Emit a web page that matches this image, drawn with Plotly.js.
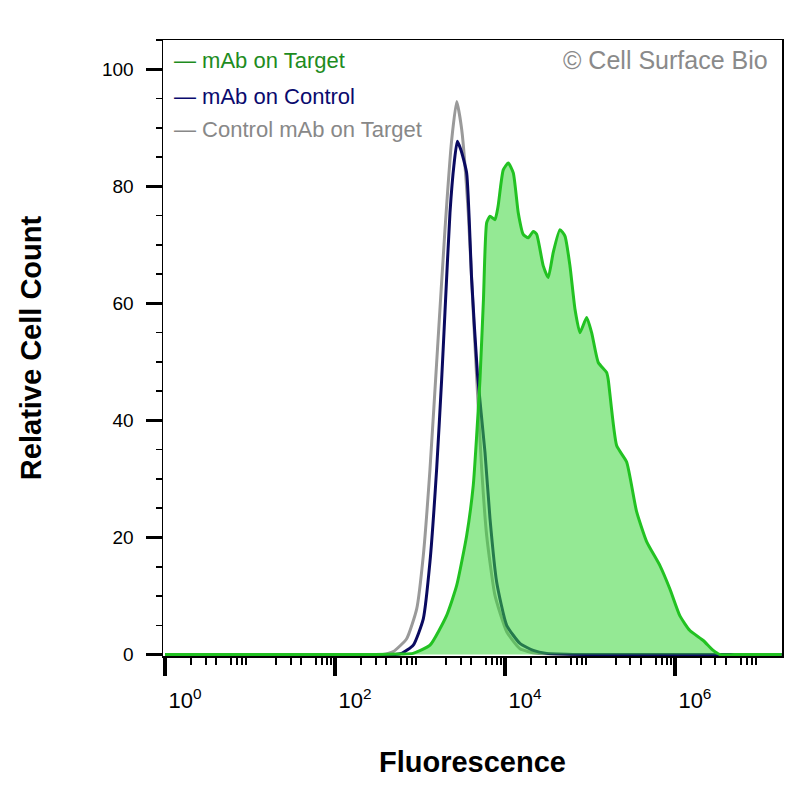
<!DOCTYPE html>
<html>
<head>
<meta charset="utf-8">
<script src="https://cdn.plot.ly/plotly-3.0.1.min.js"></script>
<style>html,body{margin:0;padding:0;background:#fff;}#chart{width:800px;height:800px;}</style>
</head>
<body>
<div id="chart"></div>
<script>
// ---- data (fluorescence intensity, relative cell count) ----
const seriesNames = ["mAb on Target", "mAb on Control", "Control mAb on Target"];

const targetX = [1, 10, 100, 300, 600, 828, 1312, 2061, 2704, 3540, 4236, 4645, 5082, 5585, 6095, 6668, 7627, 8278, 9550, 10940, 12530, 14330, 16400, 18790, 21520, 23600, 28230, 32300, 36980, 44360, 50820, 58210, 66680, 76250, 91470, 104700, 125300, 157100, 164100, 206100, 270300, 354200, 464500, 666300, 873300, 1145000, 1500000, 2153000, 2823000, 3383000, 5000000, 10000000, 18000000];
const targetY = [0, 0, 0, 0, 0.1, 0.2, 1.6, 6.7, 11.8, 20.3, 28.9, 37.4, 47.0, 60.7, 73.8, 74.9, 74.3, 76.5, 82.8, 84.0, 82.3, 75.5, 71.8, 71.2, 72.3, 71.8, 66.4, 64.4, 68.7, 72.6, 71.5, 66.4, 59.0, 55.0, 57.6, 55.0, 49.9, 48.2, 47.0, 35.7, 32.9, 24.4, 19.3, 15.2, 11.2, 6.6, 4.1, 2.4, 0.7, 0, 0, 0, 0];

const controlX = [1, 10, 100, 300, 508, 609, 834, 1094, 1312, 1571, 1799, 1968, 2255, 2512, 2748, 3036, 3540, 4055, 4746, 5818, 6668, 7983, 10480, 15000, 21520, 30970, 100000, 1000000, 10000000, 18000000];
const controlY = [0, 0, 0, 0, 0, 0.2, 1.6, 6.1, 15.9, 31.7, 47.0, 58.5, 75.5, 83.7, 87.7, 86.2, 82.3, 64.1, 47.9, 34.6, 23.2, 12.4, 5.0, 1.9, 0.7, 0.2, 0, 0, 0, 0];

const isotypeX = [1, 10, 100, 300, 367, 485, 697, 915, 1094, 1312, 1607, 1968, 2360, 2704, 3097, 3698, 4236, 4624, 5321, 6095, 7627, 10480, 15000, 23600, 100000, 1000000, 10000000, 18000000];
const isotypeY = [0, 0, 0, 0, 0, 0.5, 2.7, 7.8, 16.9, 31.7, 52.2, 72.6, 87.9, 94.5, 89.7, 75.5, 58.5, 47.9, 31.7, 20.3, 10.1, 3.9, 1.0, 0.2, 0, 0, 0, 0];

// ---- tick labels ----
const xLabelVals = [1, 100, 10000, 1000000];
const xTickText = ["10<sup>0</sup>", "10<sup>2</sup>", "10<sup>4</sup>", "10<sup>6</sup>"];
const xUnlabeledDecades = [10, 1000, 100000, 10000000];
const yTickVals = [0, 20, 40, 60, 80, 100];
const yTickText = ["0", "20", "40", "60", "80", "100"];
const minorMultipliers = [2, 3, 4, 6, 7, 8, 9];
const midMultipliers = [5];

const allDecades = [1, 10, 100, 1000, 10000, 100000, 1000000, 10000000];
const minorVals = [];
const midVals = [];
allDecades.forEach(d => {
  minorMultipliers.forEach(m => minorVals.push(d * m));
  midMultipliers.forEach(m => midVals.push(d * m));
});

const FONT = "Liberation Sans, Arial, Helvetica, sans-serif";
const xRange = [-0.024, 7.26];

const traces = [
  {x: isotypeX, y: isotypeY, name: seriesNames[2], type: "scatter", mode: "lines",
   line: {color: "#9a9a9a", width: 3, shape: "spline", smoothing: 0.5}, showlegend: false},
  {x: controlX, y: controlY, name: seriesNames[1], type: "scatter", mode: "lines",
   line: {color: "#0a0a60", width: 3, shape: "spline", smoothing: 0.5}, showlegend: false},
  {x: targetX, y: targetY, name: seriesNames[0], type: "scatter", mode: "lines",
   fill: "tozeroy", fillcolor: "rgba(60,215,60,0.55)",
   line: {color: "#22c222", width: 3, shape: "spline", smoothing: 0.5}, showlegend: false}
];

const plainTickAxis = (vals, len, w) => ({
  type: "log", range: xRange, overlaying: "x", anchor: "y", side: "bottom",
  tickmode: "array", tickvals: vals,
  ticks: "outside", ticklen: len, tickwidth: w, tickcolor: "#000",
  showticklabels: false, showline: false, showgrid: false, zeroline: false
});

const layout = {
  width: 800, height: 800,
  margin: {l: 163, r: 18, t: 40, b: 144},
  paper_bgcolor: "#ffffff", plot_bgcolor: "#ffffff",
  font: {family: FONT, color: "#000000"},
  xaxis: {
    type: "log", range: xRange,
    tickmode: "array", tickvals: xLabelVals, ticktext: xTickText,
    ticks: "outside", ticklen: 18, tickwidth: 4, tickcolor: "#000",
    ticklabelshift: 20, ticklabelstandoff: 6,
    tickfont: {size: 22, color: "#000"},
    minor: {tickmode: "array", tickvals: minorVals, ticks: "outside", ticklen: 7, tickwidth: 2, tickcolor: "#000"},
    showline: true, linecolor: "#000", linewidth: 1.5, mirror: true,
    showgrid: false, zeroline: false,
    automargin: true,
    title: {text: "Fluorescence", font: {size: 29, weight: "bold", color: "#000"}, standoff: 40}
  },
  xaxis2: plainTickAxis(midVals, 12, 2),
  xaxis3: plainTickAxis(xUnlabeledDecades, 18, 4),
  yaxis: {
    range: [-0.25, 105],
    tickmode: "array", tickvals: yTickVals, ticktext: yTickText,
    ticks: "outside", ticklen: 16, tickwidth: 3, tickcolor: "#000",
    ticklabelstandoff: 8,
    tickfont: {size: 19, color: "#000"},
    minor: {dtick: 5, tick0: 0, ticks: "outside", ticklen: 6, tickwidth: 1.5, tickcolor: "#000"},
    showline: true, linecolor: "#000", linewidth: 1.5, mirror: true,
    showgrid: false, zeroline: false,
    automargin: true,
    title: {text: "Relative Cell Count", font: {size: 29, weight: "bold", color: "#000"}, standoff: 52}
  },
  annotations: [
    {xref: "paper", yref: "paper", x: 0.0145, y: 0.9675, xanchor: "left", yanchor: "middle", showarrow: false,
     text: "— " + seriesNames[0], font: {size: 22, color: "#1e8c1e", family: FONT}},
    {xref: "paper", yref: "paper", x: 0.0145, y: 0.909, xanchor: "left", yanchor: "middle", showarrow: false,
     text: "— " + seriesNames[1], font: {size: 22, color: "#0a0a6e", family: FONT}},
    {xref: "paper", yref: "paper", x: 0.0145, y: 0.854, xanchor: "left", yanchor: "middle", showarrow: false,
     text: "— " + seriesNames[2], font: {size: 22, color: "#888888", family: FONT}},
    {xref: "paper", yref: "paper", x: 0.9806, y: 0.9675, xanchor: "right", yanchor: "middle", showarrow: false,
     text: "© Cell Surface Bio", font: {size: 25, color: "#8a8a8a", family: FONT}}
  ]
};

Plotly.newPlot("chart", traces, layout, {displayModeBar: false, staticPlot: true});
</script>
</body>
</html>
